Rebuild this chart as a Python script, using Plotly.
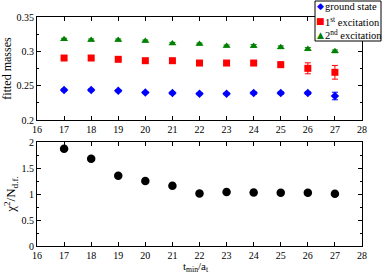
import plotly.graph_objects as go

tmin = [17, 18, 19, 20, 21, 22, 23, 24, 25, 26, 27]
ground = [0.2437, 0.2437, 0.2427, 0.2400, 0.2393, 0.2384, 0.2384, 0.2393, 0.2393, 0.2393, 0.2350]
ground_err = [0.0015, 0.0015, 0.0015, 0.0015, 0.0015, 0.0015, 0.0015, 0.002, 0.002, 0.002, 0.0055]
exc1 = [0.2903, 0.2903, 0.2884, 0.2864, 0.2864, 0.2830, 0.2830, 0.2830, 0.2806, 0.2753, 0.2695]
exc1_err = [0.0015, 0.0015, 0.0015, 0.0015, 0.0015, 0.002, 0.002, 0.003, 0.004, 0.008, 0.010]
exc2 = [0.3175, 0.3165, 0.3165, 0.3150, 0.3116, 0.3107, 0.3078, 0.3078, 0.3059, 0.3034, 0.3000]
exc2_err = [0.0015, 0.0015, 0.0015, 0.0015, 0.0015, 0.0015, 0.0015, 0.002, 0.002, 0.002, 0.002]
chi2 = [1.87, 1.68, 1.35, 1.25, 1.16, 1.01, 1.04, 1.03, 1.025, 1.025, 1.005]

series_names = ["ground state", "1<sup>st</sup> excitation", "2<sup>nd</sup> excitation"]
series_colors = ["#0000ff", "#ff0000", "#008000"]
series_glyphs = ["◆", "■", "▲"]

FONT = "Liberation Serif"
W, H = 382, 273
ML, MR, MT, MB = 37, 20, 17, 27
PW, PH = W - ML - MR, H - MT - MB


def px_x(p):
    return (p - ML) / PW


def px_y(p):
    return (H - MB - p) / PH


fig = go.Figure()
fig.add_trace(go.Scatter(x=tmin, y=ground, mode="markers", name=series_names[0], showlegend=False,
                         marker=dict(symbol="diamond", size=6.5, color=series_colors[0]),
                         error_y=dict(type="data", array=ground_err, color=series_colors[0], thickness=1, width=3),
                         xaxis="x", yaxis="y"))
fig.add_trace(go.Scatter(x=tmin, y=exc1, mode="markers", name=series_names[1], showlegend=False,
                         marker=dict(symbol="square", size=7, color=series_colors[1]),
                         error_y=dict(type="data", array=exc1_err, color=series_colors[1], thickness=1, width=3),
                         xaxis="x", yaxis="y"))
fig.add_trace(go.Scatter(x=tmin, y=exc2, mode="markers", name=series_names[2], showlegend=False,
                         marker=dict(symbol="triangle-up", size=7, color=series_colors[2]),
                         error_y=dict(type="data", array=exc2_err, color=series_colors[2], thickness=1, width=3),
                         xaxis="x", yaxis="y"))
fig.add_trace(go.Scatter(x=tmin, y=chi2, mode="markers", showlegend=False,
                         marker=dict(symbol="circle", size=8.5, color="#000000"),
                         xaxis="x2", yaxis="y2"))

axis_common = dict(showline=True, linecolor="black", linewidth=1, mirror="allticks",
                   ticks="inside", ticklen=4, tickcolor="black", showgrid=False, zeroline=False,
                   tickfont=dict(family=FONT, size=10, color="black"))

# manual compact legend (box + glyphs + labels)
shapes = [dict(type="rect", xref="paper", yref="paper",
               x0=px_x(315), x1=px_x(381), y0=px_y(41), y1=px_y(1),
               line=dict(color="black", width=1), fillcolor="white", layer="above")]
annotations = []
rows = [6.5, 21, 34.5]
for name, col, gl, r in zip(series_names, series_colors, series_glyphs, rows):
    annotations.append(dict(xref="paper", yref="paper", x=px_x(320), y=px_y(r),
                            text=gl, showarrow=False, xanchor="center", yanchor="middle",
                            font=dict(family="DejaVu Sans", size=9, color=col)))
    annotations.append(dict(xref="paper", yref="paper", x=px_x(323), y=px_y(r),
                            text=name, showarrow=False, xanchor="left", yanchor="middle",
                            font=dict(family=FONT, size=10.5, color="black")))
# x-axis title placed as annotation to keep it inside the canvas
annotations.append(dict(xref="paper", yref="paper", x=px_x(196), y=px_y(259),
                        text="t<sub>min</sub>/a<sub>t</sub>", showarrow=False,
                        xanchor="center", yanchor="top", borderpad=0,
                        font=dict(family=FONT, size=11, color="black")))

fig.update_layout(
    width=W, height=H,
    margin=dict(l=ML, r=MR, t=MT, b=MB, autoexpand=False),
    paper_bgcolor="white", plot_bgcolor="white",
    font=dict(family=FONT, color="black"),
    showlegend=False,
    xaxis=dict(range=[16, 28], dtick=1, anchor="y", domain=[0, 1], **axis_common),
    yaxis=dict(range=[0.2, 0.35], dtick=0.05, domain=[0.55, 1], anchor="x",
               minor=dict(dtick=0.025, ticklen=2, ticks="inside", tickcolor="black"),
               title=dict(text="fitted masses", font=dict(family=FONT, size=12), standoff=2),
               **axis_common),
    xaxis2=dict(range=[16, 28], dtick=1, anchor="y2", domain=[0, 1], **axis_common),
    yaxis2=dict(range=[0, 2], dtick=0.5, domain=[0, 0.454], anchor="x2",
                minor=dict(dtick=0.25, ticklen=2, ticks="inside", tickcolor="black"),
                title=dict(text="χ<sup>2</sup>/N<sub>d.f.</sub>", font=dict(family=FONT, size=13), standoff=2),
                **axis_common),
    shapes=shapes,
    annotations=annotations,
)

fig.write_html("out.html", config={"displayModeBar": False},
               post_script="document.body.style.margin='0';")
